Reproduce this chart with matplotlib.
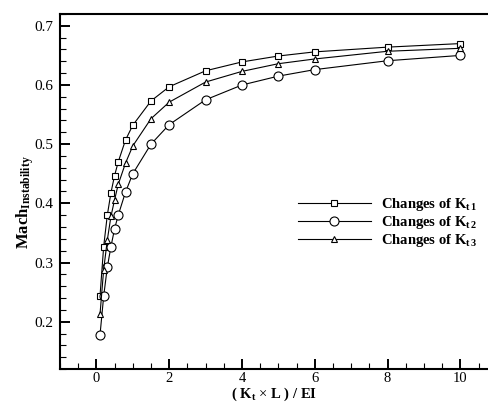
import matplotlib
matplotlib.use("Agg")
import matplotlib.pyplot as plt
from matplotlib.ticker import MultipleLocator

# stiffness ratio (Kt x L)/EI
ratio = [0.1, 0.2, 0.3, 0.4, 0.5, 0.6, 0.8, 1.0, 1.5, 2, 3, 4, 5, 6, 8, 10]

# instability Mach number for each spring
mach_kt1 = [0.244, 0.327, 0.380, 0.418, 0.447, 0.470, 0.507, 0.532,
            0.573, 0.597, 0.624, 0.639, 0.649, 0.656, 0.664, 0.670]
mach_kt2 = [0.178, 0.243, 0.292, 0.327, 0.357, 0.380, 0.419, 0.450,
            0.500, 0.533, 0.575, 0.600, 0.615, 0.626, 0.641, 0.650]
mach_kt3 = [0.213, 0.288, 0.338, 0.378, 0.406, 0.432, 0.468, 0.497,
            0.543, 0.571, 0.605, 0.623, 0.636, 0.644, 0.657, 0.662]

labels = [r"Changes of $\mathbf{K}_{\mathbf{t\,1}}$",
          r"Changes of $\mathbf{K}_{\mathbf{t\,2}}$",
          r"Changes of $\mathbf{K}_{\mathbf{t\,3}}$"]

plt.rcParams['font.family'] = ['Liberation Serif', 'DejaVu Serif']
plt.rcParams['mathtext.fontset'] = 'custom'
plt.rcParams['mathtext.rm'] = 'Liberation Serif'
plt.rcParams['mathtext.it'] = 'Liberation Serif:italic'
plt.rcParams['mathtext.bf'] = 'Liberation Serif:bold'

fig = plt.figure(figsize=(4.89, 4.03), dpi=100)
ax = fig.add_axes([60 / 489, 34 / 403, 436.7 / 489, 355 / 403])

style = dict(color='black', lw=0.8, mfc='white', mec='black', mew=0.8)
ax.plot(ratio, mach_kt1, marker='s', ms=4.5, label=labels[0], **style)
ax.plot(ratio, mach_kt2, marker='o', ms=6.5, label=labels[1], **style)
ax.plot(ratio, mach_kt3, marker='^', ms=5, label=labels[2], **style)

ax.set_xlim(-1, 11)
ax.set_ylim(0.12, 0.72)
ax.xaxis.set_minor_locator(MultipleLocator(0.5))
ax.yaxis.set_minor_locator(MultipleLocator(0.02))
ax.set_xticks([0, 2, 4, 6, 8, 10])
ax.set_yticks([0.2, 0.3, 0.4, 0.5, 0.6, 0.7])

ax.tick_params(which='major', direction='in', length=7, width=1.4,
               labelsize=11, pad=5)
ax.tick_params(axis='x', which='major', pad=2, labelsize=10.5)
ax.tick_params(which='minor', direction='in', length=4, width=0.8)
for s in ax.spines.values():
    s.set_linewidth(1.5)

ax.set_xlabel(r"( $\mathbf{K_t}$ $\times$ L ) / EI", fontsize=10.5,
              fontweight='bold')
ax.set_ylabel(r"Mach$_{\mathbf{Instability}}$", fontsize=12,
              fontweight='bold')
ax.yaxis.set_label_coords(-0.055, 0.47)
ax.xaxis.set_label_coords(0.49, -0.047)

ax.legend(loc='upper left', bbox_to_anchor=(0.515, 0.525), frameon=False,
          prop={'weight': 'bold', 'size': 10.5},
          handlelength=5.0, handletextpad=0.7, labelspacing=0.08)

fig.savefig('out.png', dpi=100)
